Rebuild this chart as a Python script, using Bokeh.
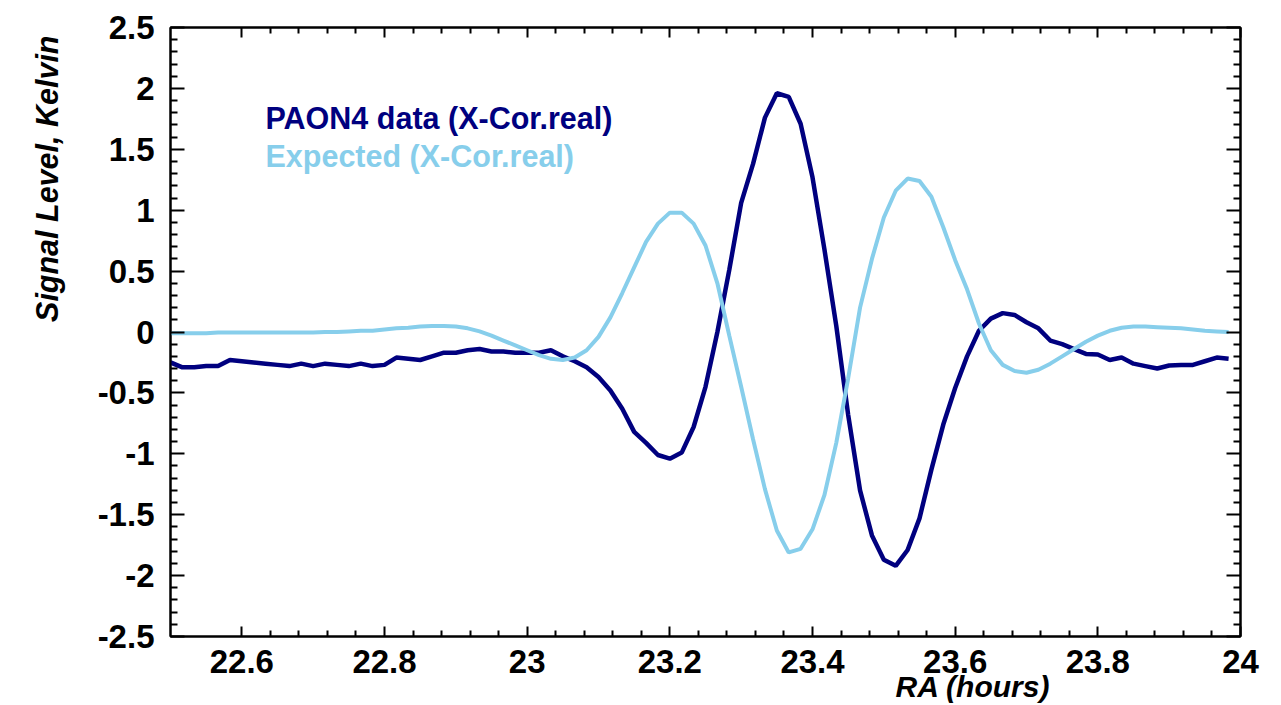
import numpy as np
from bokeh.plotting import figure
from bokeh.models import LinearAxis, FixedTicker, Label, Range1d, Title
from bokeh.embed import file_html
from bokeh.resources import INLINE

# Cross-correlation (real part) sampled once per minute of right ascension
ra_start = 22.5
samples_per_hour = 60
paon4_data = [
    -0.25, -0.29, -0.29, -0.28, -0.28, -0.23, -0.24, -0.25, -0.26, -0.27,
    -0.28, -0.26, -0.28, -0.26, -0.27, -0.28, -0.26, -0.28, -0.27, -0.21,
    -0.22, -0.23, -0.20, -0.17, -0.17, -0.15, -0.14, -0.16, -0.16, -0.17,
    -0.17, -0.17, -0.15, -0.20, -0.24, -0.29, -0.37, -0.48, -0.63, -0.82,
    -0.91, -1.01, -1.04, -0.99, -0.78, -0.45, 0.00, 0.51, 1.06, 1.38,
    1.76, 1.96, 1.93, 1.71, 1.27, 0.68, 0.05, -0.68, -1.30, -1.67,
    -1.87, -1.92, -1.79, -1.53, -1.13, -0.76, -0.46, -0.20, 0.01, 0.11,
    0.155, 0.14, 0.08, 0.03, -0.07, -0.10, -0.14, -0.18, -0.185, -0.23,
    -0.21, -0.26, -0.28, -0.30, -0.275, -0.27, -0.27, -0.24, -0.21, -0.22,
]
expected = [
    -0.01, -0.01, -0.01, -0.01, -0.005, -0.005, -0.005, -0.005, -0.005, -0.005,
    -0.005, -0.005, -0.005, 0.0, 0.0, 0.005, 0.01, 0.01, 0.02, 0.03,
    0.035, 0.045, 0.05, 0.05, 0.045, 0.03, 0.005, -0.03, -0.07, -0.11,
    -0.15, -0.19, -0.22, -0.23, -0.21, -0.15, -0.04, 0.12, 0.32, 0.53,
    0.74, 0.89, 0.98, 0.98, 0.89, 0.71, 0.40, -0.03, -0.45, -0.88,
    -1.29, -1.63, -1.81, -1.78, -1.62, -1.34, -0.91, -0.38, 0.20, 0.60,
    0.94, 1.16, 1.26, 1.24, 1.11, 0.86, 0.59, 0.35, 0.07, -0.15,
    -0.27, -0.32, -0.335, -0.31, -0.26, -0.20, -0.14, -0.08, -0.03, 0.01,
    0.035, 0.045, 0.045, 0.04, 0.035, 0.03, 0.02, 0.01, 0.005, 0.0,
]
ra_hours = ra_start + np.arange(len(paon4_data)) / samples_per_hour

x_ticks = [22.6, 22.8, 23.0, 23.2, 23.4, 23.6, 23.8, 24.0]
x_tick_labels = ["22.6", "22.8", "23", "23.2", "23.4", "23.6", "23.8", "24"]
y_ticks = [-2.5, -2.0, -1.5, -1.0, -0.5, 0.0, 0.5, 1.0, 1.5, 2.0, 2.5]
y_tick_labels = ["-2.5", "-2", "-1.5", "-1", "-0.5", "0", "0.5", "1", "1.5", "2", "2.5"]

series_names = ["PAON4 data (X-Cor.real)", "Expected (X-Cor.real)"]
series_colors = ["#00007f", "#87ceeb"]

FONT = "Liberation Sans"

p = figure(width=1281, height=705, output_backend="svg", toolbar_location=None,
           x_range=Range1d(22.5, 24.0), y_range=Range1d(-2.5, 2.5),
           x_axis_location=None, y_axis_location=None,
           min_border_left=170, min_border_right=41,
           min_border_top=27, min_border_bottom=69)
p.grid.visible = False
p.background_fill_color = "white"
p.border_fill_color = "white"
p.outline_line_color = "black"
p.outline_line_width = 2

# minor ticks only between the labelled major ticks
x_minor = [round(v, 2) for v in np.arange(22.6, 24.0001, 0.04)
           if min(abs(v - t) for t in x_ticks) > 1e-6]
y_minor = [round(v, 2) for v in np.arange(-2.5, 2.5001, 0.1)
           if min(abs(v - t) for t in y_ticks) > 1e-6]
xticker = FixedTicker(ticks=x_ticks, minor_ticks=x_minor)
yticker = FixedTicker(ticks=y_ticks, minor_ticks=y_minor)


def style_axis(ax, tick_in, minor_in, show_labels, standoff):
    ax.axis_line_color = "black"
    ax.axis_line_width = 2
    ax.major_tick_in = tick_in
    ax.major_tick_out = 0
    ax.minor_tick_in = minor_in
    ax.minor_tick_out = 0
    ax.major_tick_line_width = 2
    ax.minor_tick_line_width = 2
    ax.major_tick_line_color = "black"
    ax.minor_tick_line_color = "black"
    ax.major_label_standoff = standoff
    ax.major_label_text_font = FONT
    ax.major_label_text_font_style = "bold"
    ax.major_label_text_color = "black"
    if show_labels:
        ax.major_label_text_font_size = "33px"
    else:
        ax.major_label_text_font_size = "0px"
        ax.major_label_text_alpha = 0


bottom = LinearAxis(ticker=xticker,
                    major_label_overrides=dict(zip(x_ticks, x_tick_labels)))
style_axis(bottom, 10, 6, True, 13)
p.add_layout(bottom, "below")

top = LinearAxis(ticker=xticker)
style_axis(top, 10, 6, False, 0)
p.add_layout(top, "above")

left = LinearAxis(ticker=yticker,
                  major_label_overrides=dict(zip(y_ticks, y_tick_labels)))
style_axis(left, 14, 7, True, 16)
p.add_layout(left, "left")

right = LinearAxis(ticker=yticker)
style_axis(right, 14, 7, False, 0)
p.add_layout(right, "right")

# y-axis title, pushed towards the top end of the axis
p.add_layout(Title(text="Signal Level, Kelvin", align="right", offset=8,
                   vertical_align="top", standoff=58,
                   text_font=FONT, text_font_style="bold italic",
                   text_font_size="30.5px", text_color="black"), "left")

# x-axis title sits to the right, tucked under the tick labels
p.add_layout(Title(text="RA (hours)", align="right", offset=190,
                   vertical_align="middle", standoff=-13,
                   text_font=FONT, text_font_style="bold italic",
                   text_font_size="30px", text_color="black"), "below")

p.line(ra_hours, paon4_data, line_color=series_colors[0], line_width=4.5)
p.line(ra_hours, expected, line_color=series_colors[1], line_width=4)

# legend entries written as coloured text
for name, color, dy in zip(series_names, series_colors, [519, 481]):
    p.add_layout(Label(x=95, y=dy, x_units="screen", y_units="screen",
                       text=name, text_color=color, text_font=FONT,
                       text_font_style="bold", text_font_size="30.5px",
                       text_baseline="middle", text_align="left"))

open("out.html", "w").write(file_html(p, INLINE))
